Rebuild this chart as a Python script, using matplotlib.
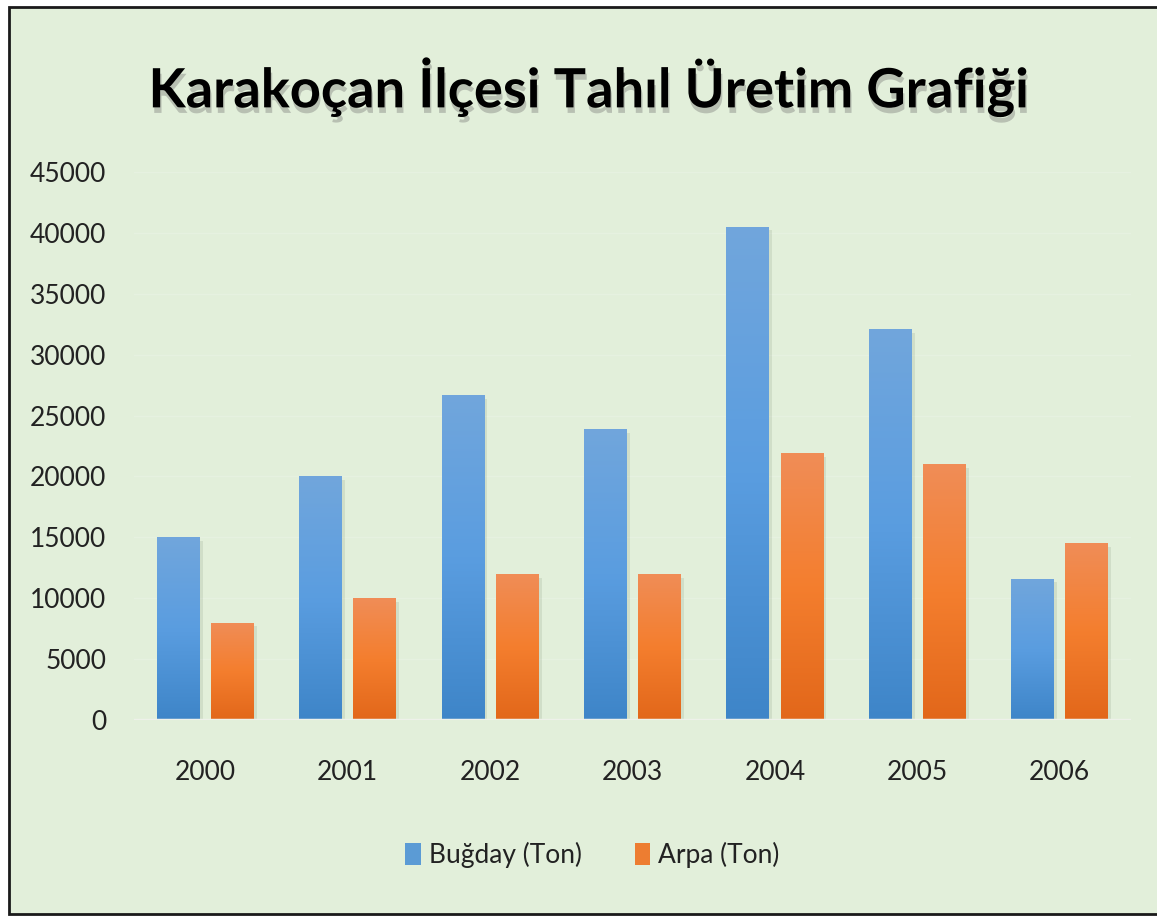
import numpy as np
import matplotlib
matplotlib.use("Agg")
import matplotlib.pyplot as plt
import matplotlib.patheffects as pe
from matplotlib.colors import LinearSegmentedColormap
from matplotlib.patches import Rectangle

# Data
years = ["2000", "2001", "2002", "2003", "2004", "2005", "2006"]
bugday = [15000, 20000, 26700, 23900, 40500, 32100, 11600]
arpa = [8000, 10000, 12000, 12000, 21900, 21000, 14500]
series_names = ["Buğday (Ton)", "Arpa (Ton)"]
title = "Karakoçan İlçesi Tahıl Üretim Grafiği"

bg = "#e2efda"
blue_cmap = LinearSegmentedColormap.from_list("b", ["#3e85c8", "#5a9de0", "#71a6dc"])
orange_cmap = LinearSegmentedColormap.from_list("o", ["#e2671a", "#f47e2e", "#f08d57"])

plt.rcParams["font.family"] = ["Lato", "DejaVu Sans"]

fig = plt.figure(figsize=(11.57, 9.17), dpi=100)
fig.patch.set_facecolor("white")
# chart area frame
fig.patches.append(Rectangle((0.008, 0.003), 1.0, 0.989, transform=fig.transFigure,
                             facecolor=bg, edgecolor="#1a1a1a", linewidth=2.0, zorder=-5))

ax = fig.add_axes([0.1158, 0.2148, 0.8617, 0.5976])
ax.set_zorder(2)
ax.patch.set_alpha(0)

x = np.arange(len(years))
w = 0.30
off = 0.19
grad = np.linspace(0, 1, 256).reshape(-1, 1)


def gradient_bars(xs, vals, cmap):
    bars = ax.bar(xs, vals, w, color="none", zorder=3)
    for b, v in zip(bars, vals):
        x0 = b.get_x()
        # soft shadow
        ax.add_patch(Rectangle((x0 + 0.012, 0), w + 0.01, v - 300, facecolor="#6f7f66",
                               alpha=0.15, edgecolor="none", zorder=2))
        im = ax.imshow(grad, extent=[x0, x0 + w, 0, v], origin="lower", aspect="auto",
                       cmap=cmap, zorder=3)
        im.set_clip_path(b)
    return bars


gradient_bars(x - off, bugday, blue_cmap)
gradient_bars(x + off, arpa, orange_cmap)

ax.set_xlim(-0.5, len(years) - 0.5)
ax.set_ylim(0, 45000)
ax.set_yticks(np.arange(0, 45001, 5000))
ax.set_xticks(x)
ax.set_xticklabels(years)
ax.grid(axis="y", color="#e6f1e0", linewidth=1, zorder=0)
ax.axhline(0, color="#eef1ea", linewidth=2.5, zorder=4)
for s in ax.spines.values():
    s.set_visible(False)
ax.tick_params(length=0, labelsize=19, colors="#222222")
ax.tick_params(axis="x", pad=29)
ax.tick_params(axis="y", pad=20)

fig.text(0.508, 0.905, title, ha="center", va="center", fontsize=39, fontweight="bold",
         color="black",
         path_effects=[pe.withSimplePatchShadow(offset=(1, -4), shadow_rgbFace="#6a6a6a", alpha=0.35)])

handles = [Rectangle((0, 0), 1, 1, facecolor="#5b9bd5"), Rectangle((0, 0), 1, 1, facecolor="#ed7d31")]
leg = fig.legend(handles, series_names, loc="center", bbox_to_anchor=(0.512, 0.068), ncol=2,
                 frameon=False, fontsize=19, handlelength=0.6, handleheight=0.9,
                 handletextpad=0.3, columnspacing=2.0)
for t in leg.get_texts():
    t.set_color("#222222")

fig.savefig("out.png", dpi=100, facecolor=fig.get_facecolor())
